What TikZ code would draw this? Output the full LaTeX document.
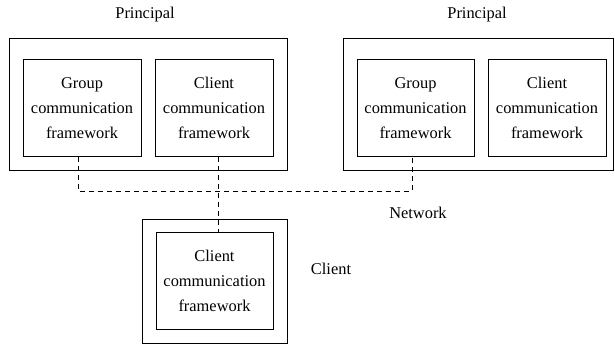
\documentclass[tikz,border=0pt]{standalone}
\usepackage{fontspec}
\setmainfont{Liberation Serif}
\begin{document}
\begin{tikzpicture}[x=1pt,y=-1pt,
  every node/.style={font=\fontsize{16.4}{25}\selectfont},
  outerbox/.style={draw, line width=0.9pt, inner sep=0pt},
  fwbox/.style={draw, line width=0.9pt, align=center, inner sep=0pt},
  net/.style={draw, line width=0.9pt, dash pattern=on 5pt off 4pt}]
\useasboundingbox (0,0) rectangle (615,345);
% principal left
\node[outerbox, minimum width=278pt, minimum height=132pt] (lo) at (148,104.5) {};
\node[fwbox, minimum width=118pt, minimum height=97pt] (lg) at (82,108) {Group\\communication\\framework};
\node[fwbox, minimum width=118pt, minimum height=97pt] (lc) at (214,108) {Client\\communication\\framework};
\node (lp) at (145,15) {Principal};
% principal right
\node[outerbox, minimum width=270pt, minimum height=132pt] (ro) at (478,104.5) {};
\node[fwbox, minimum width=117pt, minimum height=97pt] (rg) at (415.5,108) {Group\\communication\\framework};
\node[fwbox, minimum width=118pt, minimum height=97pt] (rc) at (547,108) {Client\\communication\\framework};
\node (rp) at (477,15) {Principal};
% client
\node[outerbox, minimum width=145pt, minimum height=124pt] (bo) at (214.5,281) {};
\node[fwbox, minimum width=117pt, minimum height=97pt] (bc) at (214.5,280.5) {Client\\communication\\framework};
\node (cl) at (331,269) {Client};
\node (nw) at (418,213) {Network};
% network
\coordinate (n1) at (78,191);
\coordinate (n2) at (218,191);
\coordinate (n3) at (412,191);
\draw[net] (lg.south -| n1) -- (n1) -- (n3) -- (rg.south -| n3);
\draw[net] (lc.south -| n2) -- (bc.north -| n2);
\end{tikzpicture}
\end{document}
